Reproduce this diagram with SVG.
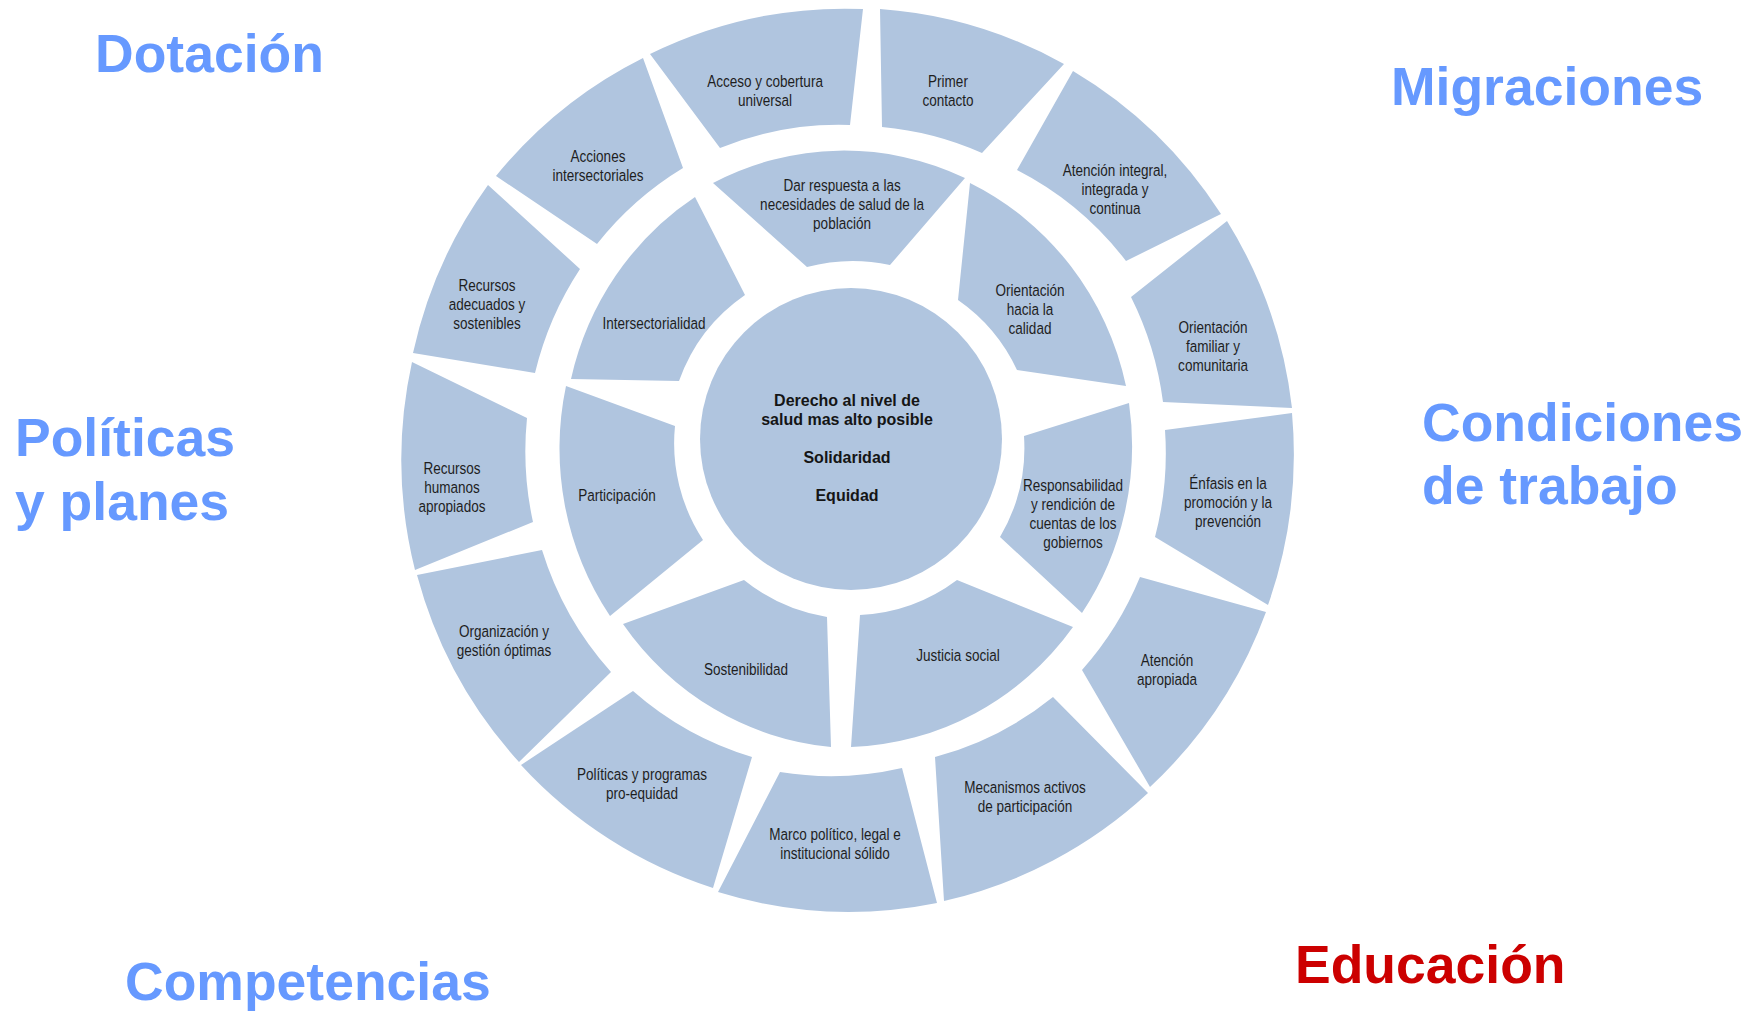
<svg xmlns="http://www.w3.org/2000/svg" width="1756" height="1011" viewBox="0 0 1756 1011">
  <style>
    .seg { fill: #b0c5df; }
    .lbl { font-family: 'Liberation Sans Narrow', 'Arial Narrow', 'Liberation Sans', sans-serif; font-size: 16.3px; fill: #1e1e1e; text-anchor: middle; transform-box: fill-box; transform-origin: center; transform: scaleX(0.83); }
    .core { font-family: 'Liberation Sans', Arial, sans-serif; font-size: 16px; font-weight: bold; fill: #151515; text-anchor: middle; }
    .topic { font-family: 'Liberation Sans', Arial, sans-serif; font-size: 53.5px; font-weight: bold; fill: #6699ff; }
    .topic.hot { fill: #cc0000; }
  </style>
  <rect width="1756" height="1011" fill="#ffffff"/>

  <!-- surrounding topics -->
  <g id="topics">
    <text class="topic" x="95" y="72">Dotación</text>
    <text class="topic" x="1391" y="105">Migraciones</text>
    <text class="topic" x="15" y="456">Políticas</text>
    <text class="topic" x="15" y="520">y planes</text>
    <text class="topic" x="1422" y="441">Condiciones</text>
    <text class="topic" x="1422" y="504">de trabajo</text>
    <text class="topic" x="125" y="1000">Competencias</text>
    <text class="topic hot" x="1295" y="983">Educación</text>
  </g>

  <!-- outer ring: elements -->
  <g id="outer-ring">
    <g id="primer-contacto">
      <path class="seg" d="M880,9 A447,451 0 0 1 1064,64 L982,153 A321,326 0 0 0 882,127 Z"/>
      <text class="lbl"><tspan x="948" y="87">Primer</tspan><tspan x="948" y="106">contacto</tspan></text>
    </g>
    <g id="atencion-integral">
      <path class="seg" d="M1073,71 A447,451 0 0 1 1221,214 L1126,261 A321,326 0 0 0 1017,170 Z"/>
      <text class="lbl"><tspan x="1115" y="176">Atención integral,</tspan><tspan x="1115" y="195">integrada y</tspan><tspan x="1115" y="214">continua</tspan></text>
    </g>
    <g id="orientacion-familiar">
      <path class="seg" d="M1227,221 A447,451 0 0 1 1292,408 L1163,402 A321,326 0 0 0 1131,297 Z"/>
      <text class="lbl"><tspan x="1213" y="333">Orientación</tspan><tspan x="1213" y="352">familiar y</tspan><tspan x="1213" y="371">comunitaria</tspan></text>
    </g>
    <g id="enfasis-promocion">
      <path class="seg" d="M1292,413 A447,451 0 0 1 1268,605 L1155,537 A321,326 0 0 0 1165,430 Z"/>
      <text class="lbl"><tspan x="1228" y="489">Énfasis en la</tspan><tspan x="1228" y="508">promoción y la</tspan><tspan x="1228" y="527">prevención</tspan></text>
    </g>
    <g id="atencion-apropiada">
      <path class="seg" d="M1266,612 A447,451 0 0 1 1150,787 L1082,670 A321,326 0 0 0 1140,577 Z"/>
      <text class="lbl"><tspan x="1167" y="666">Atención</tspan><tspan x="1167" y="685">apropiada</tspan></text>
    </g>
    <g id="mecanismos-participacion">
      <path class="seg" d="M1148,793 A447,451 0 0 1 944,901 L935,757 A321,326 0 0 0 1053,697 Z"/>
      <text class="lbl"><tspan x="1025" y="793">Mecanismos activos</tspan><tspan x="1025" y="812">de participación</tspan></text>
    </g>
    <g id="marco-politico">
      <path class="seg" d="M937,903 A447,451 0 0 1 718,892 L780,772 A321,326 0 0 0 902,768 Z"/>
      <text class="lbl"><tspan x="835" y="840">Marco político, legal e</tspan><tspan x="835" y="859">institucional sólido</tspan></text>
    </g>
    <g id="politicas-programas">
      <path class="seg" d="M713,888 A447,451 0 0 1 521,765 L633,691 A321,326 0 0 0 752,757 Z"/>
      <text class="lbl"><tspan x="642" y="780">Políticas y programas</tspan><tspan x="642" y="799">pro-equidad</tspan></text>
    </g>
    <g id="organizacion-gestion">
      <path class="seg" d="M519,762 A447,451 0 0 1 417,575 L542,550 A321,326 0 0 0 611,672 Z"/>
      <text class="lbl"><tspan x="504" y="637">Organización y</tspan><tspan x="504" y="656">gestión óptimas</tspan></text>
    </g>
    <g id="recursos-humanos">
      <path class="seg" d="M415,570 A447,451 0 0 1 412,362 L527,418 A321,326 0 0 0 533,522 Z"/>
      <text class="lbl"><tspan x="452" y="474">Recursos</tspan><tspan x="452" y="493">humanos</tspan><tspan x="452" y="512">apropiados</tspan></text>
    </g>
    <g id="recursos-adecuados">
      <path class="seg" d="M413,353 A447,451 0 0 1 488,185 L580,269 A321,326 0 0 0 535,373 Z"/>
      <text class="lbl"><tspan x="487" y="291">Recursos</tspan><tspan x="487" y="310">adecuados y</tspan><tspan x="487" y="329">sostenibles</tspan></text>
    </g>
    <g id="acciones-intersectoriales">
      <path class="seg" d="M496,176 A447,451 0 0 1 643,58 L683,168 A321,326 0 0 0 597,244 Z"/>
      <text class="lbl"><tspan x="598" y="162">Acciones</tspan><tspan x="598" y="181">intersectoriales</tspan></text>
    </g>
    <g id="acceso-cobertura">
      <path class="seg" d="M650,54 A447,451 0 0 1 863,9 L850,125 A321,326 0 0 0 720,148 Z"/>
      <text class="lbl"><tspan x="765" y="87">Acceso y cobertura</tspan><tspan x="765" y="106">universal</tspan></text>
    </g>
  </g>

  <!-- inner ring: principles -->
  <g id="inner-ring">
    <g id="dar-respuesta">
      <path class="seg" d="M713,183 A288,296 0 0 1 965,178 L890,265 A176,176 0 0 0 807,267 Z"/>
      <text class="lbl"><tspan x="842" y="191">Dar respuesta a las</tspan><tspan x="842" y="210">necesidades de salud de la</tspan><tspan x="842" y="229">población</tspan></text>
    </g>
    <g id="orientacion-calidad">
      <path class="seg" d="M970,183 A288,296 0 0 1 1126,386 L1017,370 A176,176 0 0 0 958,300 Z"/>
      <text class="lbl"><tspan x="1030" y="296">Orientación</tspan><tspan x="1030" y="315">hacia la</tspan><tspan x="1030" y="334">calidad</tspan></text>
    </g>
    <g id="responsabilidad">
      <path class="seg" d="M1129,403 A288,296 0 0 1 1082,613 L1000,537 A176,176 0 0 0 1024,436 Z"/>
      <text class="lbl"><tspan x="1073" y="491">Responsabilidad</tspan><tspan x="1073" y="510">y rendición de</tspan><tspan x="1073" y="529">cuentas de los</tspan><tspan x="1073" y="548">gobiernos</tspan></text>
    </g>
    <g id="justicia-social">
      <path class="seg" d="M1073,627 A288,296 0 0 1 851,747 L860,615 A176,176 0 0 0 957,580 Z"/>
      <text class="lbl" x="958" y="661">Justicia social</text>
    </g>
    <g id="sostenibilidad">
      <path class="seg" d="M831,747 A288,296 0 0 1 623,624 L744,580 A176,176 0 0 0 827,617 Z"/>
      <text class="lbl" x="746" y="675">Sostenibilidad</text>
    </g>
    <g id="participacion">
      <path class="seg" d="M610,616 A288,296 0 0 1 566,386 L675,426 A176,176 0 0 0 703,540 Z"/>
      <text class="lbl" x="617" y="501">Participación</text>
    </g>
    <g id="intersectorialidad">
      <path class="seg" d="M571,379 A288,296 0 0 1 695,197 L745,295 A176,176 0 0 0 679,381 Z"/>
      <text class="lbl" x="654" y="329">Intersectorialidad</text>
    </g>
  </g>

  <!-- core values -->
  <g id="core">
    <circle class="seg" cx="851" cy="439" r="151"/>
    <text class="core"><tspan x="847" y="406">Derecho al nivel de</tspan><tspan x="847" y="425">salud mas alto posible</tspan><tspan x="847" y="463">Solidaridad</tspan><tspan x="847" y="501">Equidad</tspan></text>
  </g>
</svg>
